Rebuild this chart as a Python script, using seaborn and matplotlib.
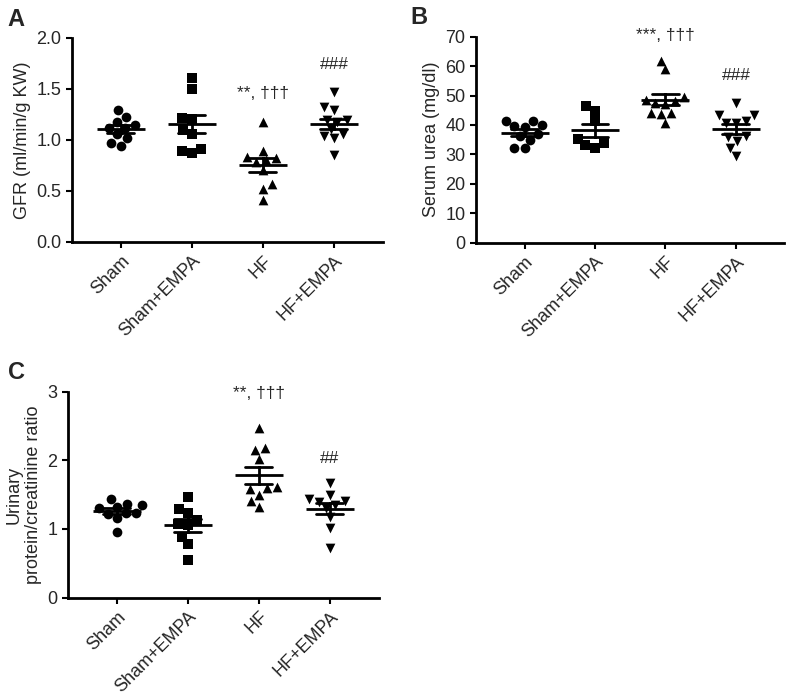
import matplotlib
matplotlib.use('Agg')
import matplotlib.pyplot as plt
import numpy as np
import pandas as pd
import seaborn as sns

groups = ['Sham', 'Sham+EMPA', 'HF', 'HF+EMPA']
markers = ['o', 's', '^', 'v']

# Panel A - GFR
gfr_sham = [1.29, 1.18, 1.23, 1.15, 1.12, 1.12, 1.02, 1.06, 0.94, 0.97]
gfr_sham_empa = [1.61, 1.50, 1.22, 1.21, 1.10, 1.06, 0.91, 0.87, 0.89]
gfr_hf = [1.18, 0.89, 0.80, 0.83, 0.82, 0.78, 0.71, 0.57, 0.52, 0.41]
gfr_hf_empa = [1.47, 1.32, 1.29, 1.20, 1.18, 1.20, 1.11, 1.04, 1.02, 1.06, 0.85]

# Panel B - serum urea
urea_sham = [41.2, 39.3, 39.5, 40.0, 41.5, 34.9, 32.1, 32.1, 36.1, 37.0]
urea_sham_empa = [46.3, 44.8, 41.4, 33.8, 32.1, 33.2, 35.3]
urea_hf = [61.9, 59.0, 48.2, 47.1, 47.4, 48.5, 44.2, 43.8, 44.2, 40.8, 49.5]
urea_hf_empa = [47.6, 43.4, 43.4, 40.6, 40.8, 41.5, 35.8, 34.6, 36.1, 32.3, 29.6]

# Panel C - urinary protein/creatinine
upcr_sham = [1.43, 1.35, 1.37, 1.30, 1.23, 1.22, 1.16, 1.24, 0.96, 1.32]
upcr_sham_empa = [1.46, 1.29, 1.23, 1.13, 0.89, 0.78, 0.55, 1.08, 1.06]
upcr_hf = [2.47, 2.18, 2.15, 2.02, 1.61, 1.58, 1.59, 1.50, 1.41, 1.32]
upcr_hf_empa = [1.67, 1.49, 1.41, 1.43, 1.40, 1.35, 1.17, 1.01, 0.73, 1.30]


def make_df(series):
    rows = []
    for g, vals in zip(groups, series):
        for v in vals:
            rows.append({'group': g, 'value': v})
    return pd.DataFrame(rows)


sns.set_style('ticks')
plt.rcParams['font.family'] = ['Liberation Sans', 'DejaVu Sans']

fig = plt.figure(figsize=(7.87, 6.97), dpi=100)


def panel(rect, series, ylim, yticks, fmt, ylabel, letter, letter_x, notes):
    ax = fig.add_axes(rect)
    df = make_df(series)
    for g, m in zip(groups, markers):
        sub = df[df['group'] == g]
        sns.swarmplot(data=sub, x='group', y='value', order=groups, marker=m,
                      color='black', size=7, ax=ax, zorder=2)
    # mean line + SEM
    sns.pointplot(data=df, x='group', y='value', order=groups, errorbar='se',
                  linestyle='none', marker='_', markersize=34, markeredgewidth=2,
                  color='black', capsize=0.38, err_kws={'linewidth': 2},
                  ax=ax, zorder=3)
    ax.set_xlim(-0.69, 3.69)
    ax.set_ylim(*ylim)
    ax.set_yticks(yticks)
    ax.set_yticklabels([fmt.format(t) for t in yticks])
    ax.set_xlabel('')
    ax.set_ylabel(ylabel, fontsize=13)
    ax.set_xticks(range(len(groups)))
    ax.set_xticklabels(groups, rotation=45, ha='right', rotation_mode='anchor')
    ax.tick_params(axis='both', labelsize=13, width=1.5, length=4, color='black')
    for s in ['left', 'bottom']:
        ax.spines[s].set_linewidth(2)
        ax.spines[s].set_color('black')
    sns.despine(ax=ax)
    for xi, yi, txt in notes:
        ax.text(xi, yi, txt, ha='center', va='center', fontsize=12.5)
    pos = ax.get_position()
    fig.text(letter_x, pos.y1 + 0.027, letter, fontsize=17, fontweight='bold',
             ha='left', va='center')
    return ax


panel([0.0915, 0.6528, 0.395, 0.2927],
      [gfr_sham, gfr_sham_empa, gfr_hf, gfr_hf_empa],
      (0, 2.0), [0.0, 0.5, 1.0, 1.5, 2.0], '{:.1f}', 'GFR (ml/min/g KW)', 'A', 0.01,
      [(2, 1.46, '**, †††'), (3, 1.74, '###')])

panel([0.6048, 0.6518, 0.392, 0.2956],
      [urea_sham, urea_sham_empa, urea_hf, urea_hf_empa],
      (0, 70), list(range(0, 71, 10)), '{:d}', 'Serum urea (mg/dl)', 'B', 0.522,
      [(2, 70.5, '***, †††'), (3, 56.7, '###')])

panel([0.0864, 0.1425, 0.395, 0.2956],
      [upcr_sham, upcr_sham_empa, upcr_hf, upcr_hf_empa],
      (0, 3), [0, 1, 2, 3], '{:d}', 'Urinary\nprotein/creatinine ratio', 'C', 0.01,
      [(2, 2.98, '**, †††'), (3, 2.03, '##')])

fig.savefig('out.png', dpi=100)
